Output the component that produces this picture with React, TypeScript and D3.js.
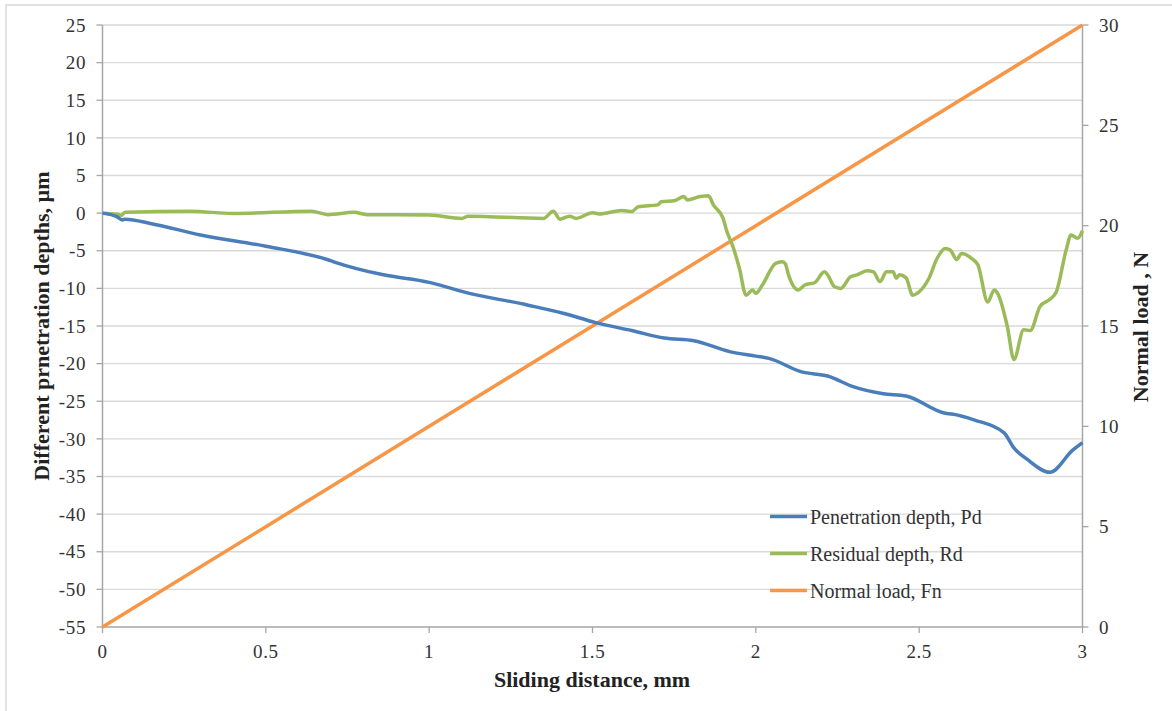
import React from "react";
import * as d3 from "d3";

// sliding distance (mm) and penetration depth Pd (µm)
const pdX = [0, 0.045, 0.06, 0.07, 0.15, 0.3, 0.5, 0.69, 0.71, 0.86, 1.0, 1.06, 1.1, 1.3, 1.41, 1.51, 1.62, 1.72, 1.81, 1.92, 2.0, 2.04, 2.14, 2.22, 2.3, 2.39, 2.46, 2.58, 2.6, 2.67, 2.76, 2.79, 2.83, 2.9, 2.97, 3.0];
const pdY = [0, -0.5, -0.9, -0.8, -1.4, -2.9, -4.4, -6.2, -6.5, -8.2, -9.2, -9.9, -10.4, -12.2, -13.3, -14.55, -15.6, -16.6, -16.95, -18.4, -19.0, -19.3, -21.1, -21.65, -23.1, -24.0, -24.3, -26.6, -26.7, -27.5, -29.2, -31.2, -32.7, -34.45, -31.5, -30.5];

// residual depth Rd (µm)
const rdX = [0, 0.049, 0.055, 0.07, 0.27, 0.4, 0.64, 0.69, 0.77, 0.81, 1.0, 1.1, 1.12, 1.35, 1.38, 1.4, 1.43, 1.45, 1.5, 1.52, 1.59, 1.62, 1.64, 1.7, 1.71, 1.75, 1.78, 1.79, 1.83, 1.855, 1.87, 1.9, 1.91, 1.93, 1.95, 1.97, 1.99, 2.0, 2.02, 2.06, 2.08, 2.09, 2.1, 2.13, 2.15, 2.18, 2.21, 2.22, 2.24, 2.26, 2.29, 2.31, 2.34, 2.36, 2.38, 2.4, 2.42, 2.43, 2.44, 2.46, 2.48, 2.5, 2.53, 2.555, 2.58, 2.595, 2.615, 2.63, 2.66, 2.68, 2.71, 2.73, 2.74, 2.77, 2.79, 2.82, 2.84, 2.87, 2.9, 2.92, 2.95, 2.965, 2.985, 3.0];
const rdY = [0, -0.15, -0.35, 0.1, 0.25, -0.05, 0.25, -0.2, 0.1, -0.2, -0.25, -0.7, -0.4, -0.7, 0.25, -0.8, -0.4, -0.7, 0.05, -0.1, 0.35, 0.2, 0.85, 1.1, 1.5, 1.65, 2.2, 1.75, 2.2, 2.3, 1.1, -0.7, -2.25, -4.45, -7.4, -10.9, -10.2, -10.65, -9.55, -6.7, -6.45, -6.7, -8.2, -10.2, -9.55, -9.25, -7.8, -8.2, -9.75, -10.0, -8.45, -8.2, -7.65, -7.8, -9.1, -7.8, -7.8, -8.65, -8.2, -8.6, -10.9, -10.45, -8.65, -6.0, -4.7, -4.9, -6.15, -5.35, -6.0, -6.9, -11.8, -10.2, -10.65, -15.1, -19.45, -15.5, -15.6, -12.4, -11.45, -10.45, -4.9, -2.9, -3.35, -2.35];

// normal load Fn (N)
const fnX = [0, 0.5, 1, 1.5, 2, 2.5, 3];
const fnY = [0, 5, 10, 15, 20, 25, 30];

const xTicks = [0, 0.5, 1, 1.5, 2, 2.5, 3];
const yLeftTicks = [25, 20, 15, 10, 5, 0, -5, -10, -15, -20, -25, -30, -35, -40, -45, -50, -55];
const yRightTicks = [0, 5, 10, 15, 20, 25, 30];

const legendNames = ["Penetration depth, Pd", "Residual depth, Rd", "Normal load, Fn"];
const colors = ["#4a7ebb", "#9bbb59", "#f79646"];

const font = "'Liberation Serif', 'Times New Roman', serif";

export default function App() {
  const x = d3.scaleLinear().domain([0, 3]).range([102.5, 1082.5]);
  const yL = d3.scaleLinear().domain([-55, 25]).range([627, 25]);
  const yR = d3.scaleLinear().domain([0, 30]).range([627, 25]);

  const lineL = d3.line<[number, number]>().x(d => x(d[0])).y(d => yL(d[1])).curve(d3.curveMonotoneX);
  const lineR = d3.line<[number, number]>().x(d => x(d[0])).y(d => yR(d[1]));

  const pd = pdX.map((v, i) => [v, pdY[i]] as [number, number]);
  const rd = rdX.map((v, i) => [v, rdY[i]] as [number, number]);
  const fn = fnX.map((v, i) => [v, fnY[i]] as [number, number]);

  const [x0, x1] = x.range();

  return (
    <svg width={1172} height={711} style={{ position: "absolute", left: 0, top: 0, background: "#fff" }} fontFamily={font}>
      <rect x={6} y={5} width={1180} height={720} fill="#fff" stroke="#d9d9d9" strokeWidth={1.5} />

      {/* grid */}
      {yLeftTicks.filter(t => t > -55).map(t => (
        <line key={t} x1={x0} x2={x1} y1={yL(t)} y2={yL(t)} stroke="#d9d9d9" strokeWidth={1.3} />
      ))}

      {/* axes */}
      <line x1={x0} x2={x1} y1={yL(-55)} y2={yL(-55)} stroke="#a6a6a6" strokeWidth={1.5} />
      <line x1={x0} x2={x0} y1={yL(25)} y2={yL(-55)} stroke="#a6a6a6" strokeWidth={1.5} />
      <line x1={x1} x2={x1} y1={yR(30)} y2={yR(0)} stroke="#a6a6a6" strokeWidth={1.5} />

      {yLeftTicks.map(t => (
        <g key={t}>
          <line x1={x0 - 6} x2={x0} y1={yL(t)} y2={yL(t)} stroke="#a6a6a6" strokeWidth={1.3} />
          <text x={86} y={yL(t)} dy="0.35em" textAnchor="end" fontSize={19} letterSpacing={0.6} fill="#333">{t}</text>
        </g>
      ))}
      {yRightTicks.map(t => (
        <g key={t}>
          <line x1={x1} x2={x1 + 6} y1={yR(t)} y2={yR(t)} stroke="#a6a6a6" strokeWidth={1.3} />
          <text x={1099} y={yR(t)} dy="0.35em" textAnchor="start" fontSize={19} letterSpacing={0.6} fill="#333">{t}</text>
        </g>
      ))}
      {xTicks.map(t => (
        <g key={t}>
          <line x1={x(t)} x2={x(t)} y1={627} y2={633} stroke="#a6a6a6" strokeWidth={1.3} />
          <text x={x(t)} y={658} textAnchor="middle" fontSize={19} letterSpacing={0.6} fill="#333">{t}</text>
        </g>
      ))}

      {/* series */}
      <path d={lineR(fn) || ""} fill="none" stroke={colors[2]} strokeWidth={3.5} />
      <path d={lineL(rd) || ""} fill="none" stroke={colors[1]} strokeWidth={3.5} strokeLinejoin="round" />
      <path d={lineL(pd) || ""} fill="none" stroke={colors[0]} strokeWidth={3.5} strokeLinejoin="round" />

      {/* titles */}
      <text x={592} y={687} textAnchor="middle" fontSize={22} fontWeight="bold" fill="#222">Sliding distance, mm</text>
      <text transform="translate(49,326) rotate(-90)" textAnchor="middle" fontSize={22} fontWeight="bold" fill="#222">Different prnetration depths, µm</text>
      <text transform="translate(1148,327) rotate(-90)" textAnchor="middle" fontSize={22} fontWeight="bold" fill="#222">Normal load , N</text>

      {/* legend */}
      {legendNames.map((n, i) => (
        <g key={n} transform={`translate(770,${516.5 + i * 37})`}>
          <line x1={0} x2={37} y1={0} y2={0} stroke={colors[i]} strokeWidth={3.5} />
          <text x={40} y={0} dy="0.35em" fontSize={20} fill="#333">{n}</text>
        </g>
      ))}
    </svg>
  );
}
